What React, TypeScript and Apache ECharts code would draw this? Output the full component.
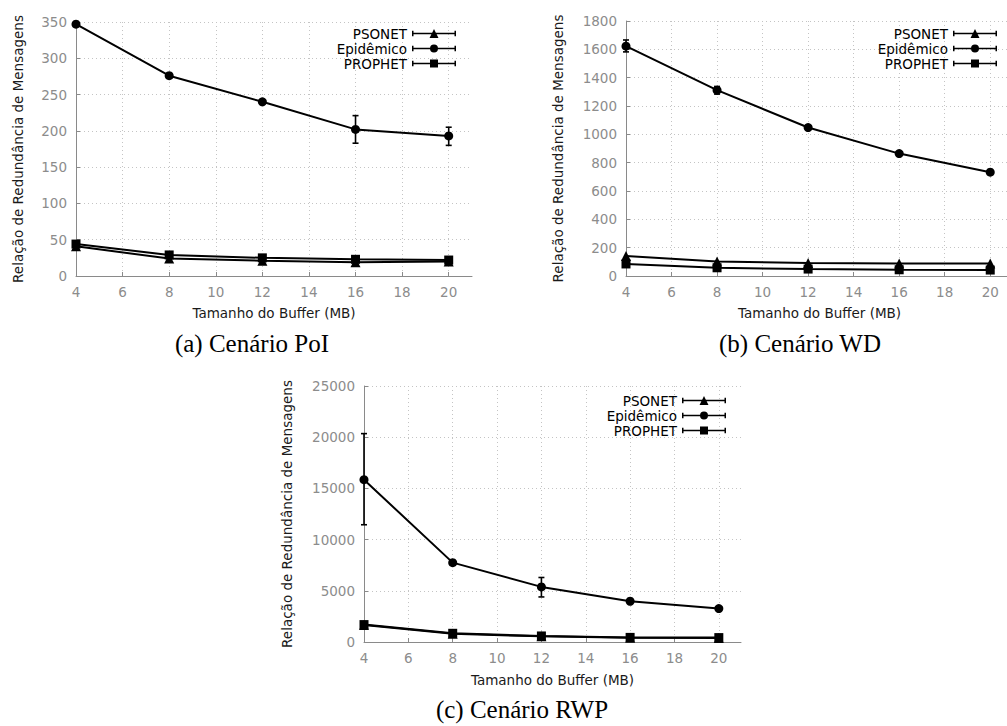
import React, { useEffect, useRef } from 'react';
import * as echarts from 'echarts';

// ---------- data ----------
const bufferSizes = [4, 8, 12, 16, 20];
const seriesNames = ['PSONET', 'Epidêmico', 'PROPHET'];
const xTickLabels = ['4', '6', '8', '10', '12', '14', '16', '18', '20'];

// (a) Cenário PoI
const poiPsonet = [41, 24, 21, 19, 20];
const poiEpidemic = [347, 276, 240, 202, 193];
const poiProphet = [44, 29, 25, 23, 22];
const poiEpidemicLow = [345, 273, 237, 183, 180];
const poiEpidemicHigh = [349, 279, 243, 221, 205];

// (b) Cenário WD
const wdPsonet = [141, 103, 92, 88, 88];
const wdEpidemic = [1622, 1312, 1048, 864, 733];
const wdProphet = [85, 58, 49, 44, 42];
const wdEpidemicLow = [1582, 1284, 1034, 854, 724];
const wdEpidemicHigh = [1666, 1338, 1064, 874, 743];

// (c) Cenário RWP
const rwpPsonet = [1650, 800, 550, 420, 390];
const rwpEpidemic = [15850, 7750, 5380, 3980, 3260];
const rwpProphet = [1700, 850, 590, 450, 430];
const rwpEpidemicLow = [11450, 7600, 4400, 3880, 3180];
const rwpEpidemicHigh = [20350, 7900, 6300, 4080, 3340];

const captions = ['(a) Cenário PoI', '(b) Cenário WD', '(c) Cenário RWP'];
const xAxisTitle = 'Tamanho do Buffer (MB)';
const yAxisTitle = 'Relação de Redundância de Mensagens';

// ---------- style ----------
const SANS = 'DejaVu Sans';
const SERIF = 'Liberation Serif';
const TICK_COLOR = '#8c8c8c';
const AXIS_COLOR = '#8a8a8a';
const GRID_COLOR = '#c4c4c4';

const ICON_TRI = 'path://M0,2.2H1.5V7.8H0Z M42.5,2.2H44V7.8H42.5Z M0,4.2H44V5.8H0Z M17.5,9.5L22,0.5L26.5,9.5Z';
const ICON_CIRCLE = 'path://M0,2.2H1.5V7.8H0Z M42.5,2.2H44V7.8H42.5Z M0,4.2H44V5.8H0Z M26,5A4,4 0 1 1 18,5A4,4 0 1 1 26,5Z';
const ICON_SQUARE = 'path://M0,2.2H1.5V7.8H0Z M42.5,2.2H44V7.8H42.5Z M0,4.2H44V5.8H0Z M18,1H26V9H18Z';

type Panel = {
  psonet: number[];
  epidemic: number[];
  prophet: number[];
  low: number[];
  high: number[];
  yMax: number;
  yInterval: number;
  grid: { left: number; top: number; width: number; height: number };
  yNameGap: number;
  xNameGap: number;
  legend: { right: number; top: number };
};

const panels: Panel[] = [
  {
    psonet: poiPsonet, epidemic: poiEpidemic, prophet: poiProphet,
    low: poiEpidemicLow, high: poiEpidemicHigh,
    yMax: 350, yInterval: 50,
    grid: { left: 76, top: 22, width: 396, height: 254 },
    yNameGap: 51, xNameGap: 30,
    legend: { right: 551, top: 26 },
  },
  {
    psonet: wdPsonet, epidemic: wdEpidemic, prophet: wdProphet,
    low: wdEpidemicLow, high: wdEpidemicHigh,
    yMax: 1800, yInterval: 200,
    grid: { left: 626, top: 21, width: 387, height: 255 },
    yNameGap: 61, xNameGap: 30,
    legend: { right: 10, top: 26 },
  },
  {
    psonet: rwpPsonet, epidemic: rwpEpidemic, prophet: rwpProphet,
    low: rwpEpidemicLow, high: rwpEpidemicHigh,
    yMax: 25000, yInterval: 5000,
    grid: { left: 364, top: 386, width: 377, height: 256 },
    yNameGap: 70, xNameGap: 31,
    legend: { right: 281, top: 393 },
  },
];

const captionPos = [
  { x: 252, y: 343 },
  { x: 800, y: 343 },
  { x: 522, y: 709 },
];

function pairs(values: number[]) {
  return bufferSizes.map((x, i) => [x, values[i]]);
}

function buildOption() {
  const grids: any[] = [];
  const xAxes: any[] = [];
  const yAxes: any[] = [];
  const series: any[] = [];
  const legends: any[] = [];

  panels.forEach((p, idx) => {
    grids.push({ ...p.grid, containLabel: false, outerBoundsMode: 'none' });
    xAxes.push({
      gridIndex: idx,
      type: 'value',
      min: 4,
      max: 21,
      interval: 2,
      name: xAxisTitle,
      nameLocation: 'middle',
      nameGap: p.xNameGap,
      nameTextStyle: { fontFamily: SANS, fontSize: 13.5, color: '#1a1a1a' },
      axisLine: { show: true, onZero: false, lineStyle: { color: AXIS_COLOR, width: 1 } },
      axisTick: { show: true, inside: true, length: 4, lineStyle: { color: AXIS_COLOR } },
      axisLabel: {
        margin: 9,
        fontFamily: SANS,
        fontSize: 13.5,
        color: TICK_COLOR,
        showMaxLabel: false,
        formatter: (v: number) => (xTickLabels.includes(String(v)) ? String(v) : ''),
      },
      splitLine: {
        show: true,
        showMinLine: false,
        showMaxLine: false,
        lineStyle: { color: GRID_COLOR, type: [1, 3], width: 1 },
      },
    });
    yAxes.push({
      gridIndex: idx,
      type: 'value',
      min: 0,
      max: p.yMax,
      interval: p.yInterval,
      name: yAxisTitle,
      nameLocation: 'middle',
      nameGap: p.yNameGap,
      nameTextStyle: { fontFamily: SANS, fontSize: 13.5, color: '#1a1a1a' },
      axisLine: { show: true, lineStyle: { color: AXIS_COLOR, width: 1 } },
      axisTick: { show: true, inside: true, length: 4, lineStyle: { color: AXIS_COLOR } },
      axisLabel: {
        margin: 9,
        fontFamily: SANS,
        fontSize: 13.5,
        color: TICK_COLOR,
        formatter: (v: number) => String(v),
      },
      splitLine: {
        show: true,
        showMinLine: false,
        lineStyle: { color: GRID_COLOR, type: [1, 3], width: 1 },
      },
    });

    const lineCommon = {
      type: 'line',
      xAxisIndex: idx,
      yAxisIndex: idx,
      color: '#000',
      lineStyle: { color: '#000', width: 2 },
      itemStyle: { color: '#000', borderWidth: 0 },
      showSymbol: true,
      emphasis: { disabled: true },
    };
    series.push({ ...lineCommon, name: seriesNames[0], symbol: 'triangle', symbolSize: 10, data: pairs(p.psonet) });
    series.push({ ...lineCommon, name: seriesNames[1], symbol: 'circle', symbolSize: 9, data: pairs(p.epidemic) });
    series.push({
      type: 'custom',
      name: seriesNames[1],
      xAxisIndex: idx,
      yAxisIndex: idx,
      color: '#000',
      z: 3,
      encode: { x: 0, y: [1, 2] },
      data: bufferSizes.map((x, i) => [x, p.low[i], p.high[i]]),
      renderItem: (params: any, api: any) => {
        const x = api.value(0);
        const lo = api.coord([x, api.value(1)]);
        const hi = api.coord([x, api.value(2)]);
        const cap = 3;
        const st = { stroke: '#000', lineWidth: 1.6 };
        return {
          type: 'group',
          children: [
            { type: 'line', shape: { x1: lo[0], y1: lo[1], x2: hi[0], y2: hi[1] }, style: st },
            { type: 'line', shape: { x1: lo[0] - cap, y1: lo[1], x2: lo[0] + cap, y2: lo[1] }, style: st },
            { type: 'line', shape: { x1: hi[0] - cap, y1: hi[1], x2: hi[0] + cap, y2: hi[1] }, style: st },
          ],
        };
      },
    });
    series.push({ ...lineCommon, name: seriesNames[2], symbol: 'rect', symbolSize: 9, data: pairs(p.prophet) });

    legends.push({
      orient: 'vertical',
      align: 'right',
      right: p.legend.right,
      top: p.legend.top,
      padding: 0,
      itemGap: 0,
      itemWidth: 44,
      itemHeight: 10,
      selectedMode: false,
      itemStyle: { color: '#000', borderWidth: 0 },
      textStyle: { fontFamily: SANS, fontSize: 13.5, color: '#000', lineHeight: 15 },
      data: [
        { name: seriesNames[0], icon: ICON_TRI },
        { name: seriesNames[1], icon: ICON_CIRCLE },
        { name: seriesNames[2], icon: ICON_SQUARE },
      ],
    });
  });

  const graphics = captions.map((c, i) => ({
    type: 'text',
    x: captionPos[i].x,
    y: captionPos[i].y,
    style: {
      text: c,
      fill: '#000',
      font: `25px "${SERIF}"`,
      textAlign: 'center',
      textVerticalAlign: 'middle',
    },
  }));

  return {
    animation: false,
    backgroundColor: '#fff',
    grid: grids,
    xAxis: xAxes,
    yAxis: yAxes,
    legend: legends,
    series,
    graphic: graphics,
  };
}

export default function App() {
  const ref = useRef<HTMLDivElement>(null);
  useEffect(() => {
    if (!ref.current) return;
    const chart = echarts.init(ref.current, null, { renderer: 'svg' });
    chart.setOption(buildOption() as any);
    return () => chart.dispose();
  }, []);
  return (
    <div
      ref={ref}
      style={{ position: 'absolute', left: 0, top: 0, width: 1007, height: 726, background: '#fff' }}
    />
  );
}
